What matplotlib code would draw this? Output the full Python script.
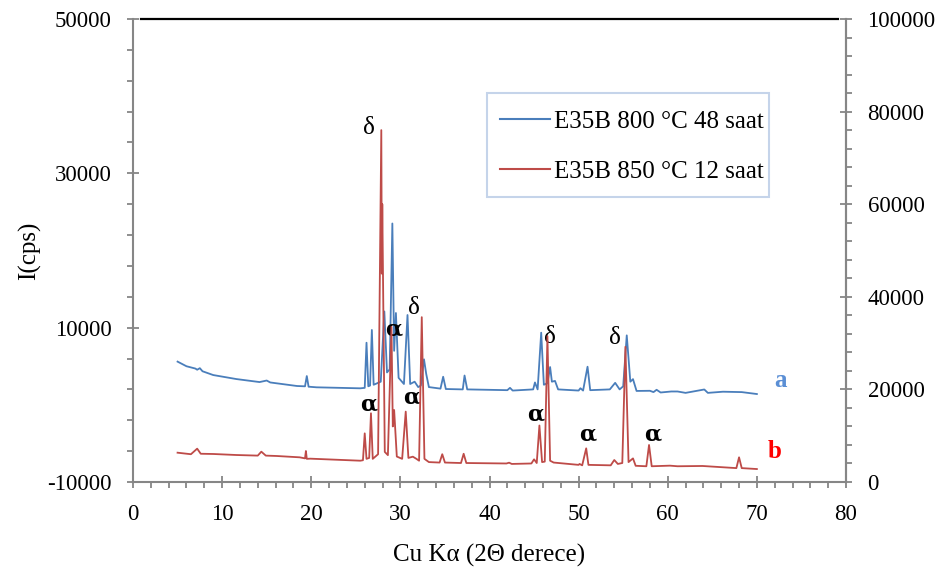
import matplotlib
matplotlib.use("Agg")
import matplotlib.pyplot as plt
from matplotlib.ticker import MultipleLocator
from matplotlib.patches import Rectangle

plt.rcParams['font.family'] = ['Liberation Serif', 'DejaVu Serif']
plt.rcParams['axes.unicode_minus'] = False

# XRD pattern, E35B 800 °C 48 saat (left axis)
two_theta_a = [5.0, 6.0, 7.0, 7.2, 7.5, 7.8, 9.0, 11.6, 14.2, 15.0, 15.4, 18.4, 19.3, 19.5, 19.7,
               20.6, 25.5, 26.0, 26.2, 26.4, 26.6, 26.8, 27.0, 27.8, 28.2, 28.5, 28.8, 29.1, 29.3,
               29.5, 29.8, 30.4, 30.8, 31.1, 31.6, 32.0, 32.3, 32.65, 32.9, 33.2, 34.5, 34.8, 35.1,
               37.0, 37.2, 37.5, 42.0, 42.3, 42.6, 44.9, 45.1, 45.4, 45.8, 46.1, 46.5, 46.8, 47.0,
               47.35, 47.7, 50.0, 50.2, 50.5, 51.0, 51.3, 53.5, 54.1, 54.6, 55.0, 55.4, 55.8, 56.1,
               56.5, 58.0, 58.4, 58.75, 59.2, 60.4, 61.1, 62.0, 64.1, 64.5, 66.2, 68.3, 70.0]
counts_a = [5600, 5000, 4700, 4550, 4750, 4350, 3860, 3340, 2950, 3150, 2900, 2440, 2400, 3730, 2350,
            2270, 2140, 2200, 8050, 2400, 2500, 9700, 2600, 3000, 12100, 4200, 4600, 23500, 7000,
            11900, 3500, 2700, 11640, 2700, 3000, 2300, 2500, 5900, 4000, 2300, 2100, 3640, 2050,
            2000, 3800, 2000, 1900, 2200, 1850, 2000, 2900, 2000, 9350, 2600, 2800, 4900, 3000,
            3100, 2000, 1850, 2150, 1850, 4940, 1900, 2000, 2850, 2000, 2400, 9000, 3000, 3330,
            1800, 1820, 1650, 1950, 1600, 1730, 1730, 1550, 1990, 1550, 1700, 1650, 1400]

# XRD pattern, E35B 850 °C 12 saat (right axis)
two_theta_b = [5.0, 6.5, 7.2, 7.6, 9.0, 11.6, 14.0, 14.4, 14.9, 16.1, 18.7, 19.3, 19.4, 19.5, 19.9,
               25.5, 25.8, 26.0, 26.2, 26.5, 26.7, 26.9, 27.5, 27.86, 27.92, 27.97, 28.25, 28.6, 29.0,
               29.15, 29.3, 29.6, 30.2, 30.6, 30.9, 31.4, 31.8, 32.1, 32.4, 32.7, 33.2, 34.4, 34.7,
               35.0, 36.8, 37.1, 37.4, 41.9, 42.2, 42.5, 44.7, 45.0, 45.3, 45.6, 45.9, 46.2, 46.5,
               46.8, 47.2, 50.0, 50.1, 50.4, 50.85, 51.1, 53.6, 54.0, 54.4, 54.9, 55.25, 55.6, 56.1,
               56.4, 57.6, 57.9, 58.2, 60.25, 61.1, 63.9, 67.7, 68.0, 68.3, 70.0]
counts_b = [6330, 6000, 7200, 6100, 6050, 5830, 5700, 6550, 5700, 5620, 5330, 5100, 6700, 5000, 5040,
            4600, 4700, 10500, 5000, 5200, 14840, 5000, 6000, 76000, 45000, 60000, 6500, 5800, 33500,
            12000, 15550, 5500, 5000, 15200, 5200, 5470, 5000, 4600, 35600, 5000, 4300, 4200, 6000,
            4200, 4100, 6100, 4100, 4000, 4170, 3900, 4000, 4900, 4100, 12200, 4300, 4400, 31500,
            4600, 4200, 3700, 3900, 3600, 7270, 3700, 3600, 4750, 3900, 4100, 29200, 4300, 5100,
            3500, 3400, 8000, 3400, 3530, 3400, 3460, 3000, 5330, 3000, 2800]

series_labels = ["E35B 800 °C 48 saat", "E35B 850 °C 12 saat"]

# Phase markers: (symbol, 2θ, left-axis height)
phase_marks = [("δ", 26.5, 35900), ("δ", 31.5, 12500), ("α", 29.3, 9700),
               ("α", 26.5, 100), ("α", 31.3, 1000), ("α", 45.2, -1250),
               ("δ", 46.8, 8800), ("α", 51.0, -3800), ("δ", 54.1, 8600),
               ("α", 58.3, -3800)]

blue = "#4a7ebb"
red = "#be4b48"
grey = "#868686"

fig = plt.figure(figsize=(9.49, 5.75), dpi=100)
ax = fig.add_axes([133 / 949, 93 / 575, 713 / 949, 463 / 575])
ax2 = ax.twinx()

l1, = ax.plot(two_theta_a, counts_a, color=blue, lw=1.3, zorder=3)
l2, = ax2.plot(two_theta_b, counts_b, color=red, lw=1.3, zorder=3)

ax.set_xlim(0, 80)
ax.set_ylim(-10000, 50000)
ax2.set_ylim(0, 100000)

ax.xaxis.set_major_locator(MultipleLocator(10))
ax.xaxis.set_minor_locator(MultipleLocator(2))
ax.yaxis.set_major_locator(MultipleLocator(20000, offset=10000))
ax.yaxis.set_minor_locator(MultipleLocator(4000, offset=2000))
ax2.yaxis.set_major_locator(MultipleLocator(20000))
ax2.yaxis.set_minor_locator(MultipleLocator(4000))

for a in (ax, ax2):
    for s in a.spines.values():
        s.set_color(grey)
        s.set_linewidth(1.5)
    a.spines['top'].set_visible(False)
    a.tick_params(which='major', direction='inout', length=9, width=1.3, color=grey,
                  labelsize=16.5, pad=11)
    a.tick_params(which='minor', direction='out', length=4, width=1.3, color=grey)
ax.tick_params(axis='y', right=False)
ax2.spines['left'].set_visible(False)
ax2.spines['bottom'].set_visible(False)

# black top border
ax.plot([0.011, 0.989], [1, 1], transform=ax.transAxes, color="black", lw=1.6,
        clip_on=False, zorder=5)

ax.set_xlabel("Cu Kα (2Θ derece)", fontsize=18, labelpad=14)
ax.set_ylabel("I(cps)", fontsize=18, labelpad=4)

for sym, x, y in phase_marks:
    if sym == "α":
        ax.text(x, y, sym, ha='center', va='center', fontsize=16, fontweight='bold',
                family=['DejaVu Serif'], zorder=6)
    else:
        ax.text(x, y, sym, ha='center', va='center', fontsize=18, zorder=6)

ax.text(72.6, 3200, "a", color="#5b8fd5", fontsize=18, fontweight='bold', ha='center', va='center')
ax.text(72.0, -6100, "b", color="#ff0000", fontsize=18, fontweight='bold', ha='center', va='center')

# legend box drawn as a separate frame, just under the legend entries
ax2.add_patch(Rectangle((487 / 949, 1 - 197 / 575), (769 - 487) / 949, (197 - 93) / 575,
                        transform=fig.transFigure, facecolor="white", clip_on=False,
                        edgecolor="#c5d4ea", linewidth=1.5, zorder=4))
leg = ax2.legend([l1, l2], series_labels, loc='upper left',
                 bbox_to_anchor=(500 / 949, 1 - 110 / 575), bbox_transform=fig.transFigure,
                 fontsize=18, frameon=False, borderpad=0,
                 handlelength=2.0, handletextpad=0.15, labelspacing=1.1, borderaxespad=0)
leg.set_zorder(6)
for h in leg.get_lines():
    h.set_linewidth(1.5)

fig.savefig("out.png", dpi=100)
